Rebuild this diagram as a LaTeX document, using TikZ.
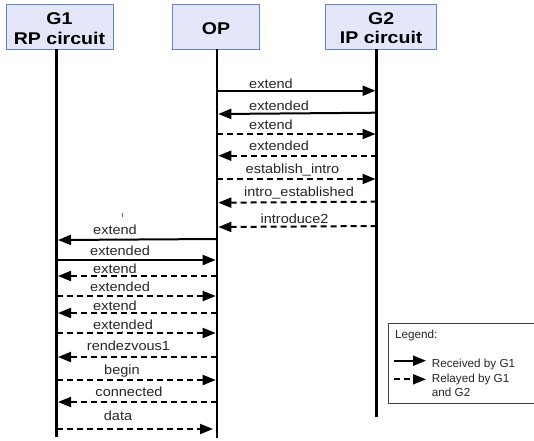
\documentclass[tikz,border=0pt]{standalone}
\usepackage{fontspec}
\setmainfont{Liberation Sans}
\newfontfamily\lblfont{Liberation Sans}[FakeStretch=1.1]
\newfontfamily\ttlfont{Liberation Sans}[FakeStretch=1.15]
\usetikzlibrary{arrows.meta}
\definecolor{boxfill}{HTML}{E4E6F9}
\definecolor{boxline}{HTML}{5C86C6}
\definecolor{tickblue}{HTML}{3A6FC0}
\tikzset{
  headbox/.style={draw=boxline, fill=boxfill, line width=1pt},
  ttl/.style={font=\ttlfont\bfseries\fontsize{17}{19}\selectfont, inner sep=0pt, anchor=base},
  lifeline/.style={line width=2.6pt, black},
  solidmsg/.style={line width=2pt, -{Triangle[length=13pt,width=10pt]}},
  dashmsg/.style={line width=2pt, dash pattern=on 6pt off 4pt, -{Triangle[length=13pt,width=10pt]}},
  lbl/.style={font=\lblfont\fontsize{13.2}{15}\selectfont, inner sep=0pt, text=black!85},
  lbll/.style={lbl, anchor=base west},
  lblc/.style={lbl, anchor=base},
  leg/.style={font=\fontsize{11.7}{13}\selectfont, inner sep=0pt, anchor=base west, text=black!85},
}
\begin{document}
\begin{tikzpicture}[x=1pt,y=-1pt]
\useasboundingbox (0,0) rectangle (534,440);
% header boxes
\draw[headbox] (6,4.3) rectangle (113,49.3);
\draw[headbox] (172.5,4.3) rectangle (259.5,49.3);
\draw[headbox] (325.7,4.3) rectangle (436.5,49.3);
\node[ttl] (t1a) at (59.5,24.2) {G1};
\node[ttl] (t1b) at (59.5,44.2) {RP circuit};
\node[ttl] (t2) at (216,34) {OP};
\node[ttl] (t3a) at (381.2,24) {G2};
\node[ttl] (t3b) at (381.2,43.8) {IP circuit};
% lifelines
\coordinate (g1top) at (56.7,49.3); \coordinate (g1bot) at (56.7,436.5);
\coordinate (optop) at (217,49.3); \coordinate (opbot) at (217,437.5);
\coordinate (g2top) at (376.5,49.3); \coordinate (g2bot) at (376.5,417);
\draw[lifeline] (g1top) -- (g1bot);
\draw[lifeline] (optop) -- (opbot);
\draw[lifeline] (g2top) -- (g2bot);
% messages OP <-> G2
\coordinate (a1) at (217,90.7);   \coordinate (b1) at (375.5,90.7);
\coordinate (a2) at (376.5,112.7); \coordinate (b2) at (218.3,114);
\coordinate (a3) at (217,134);    \coordinate (b3) at (375.5,134);
\coordinate (a4) at (376.5,155.7); \coordinate (b4) at (218.3,155.7);
\coordinate (a5) at (217,179);    \coordinate (b5) at (375.5,179);
\coordinate (a6) at (376.5,201.7); \coordinate (b6) at (218.3,202.7);
\coordinate (a7) at (376.5,226);  \coordinate (b7) at (218.3,227);
\draw[solidmsg] (a1) -- (b1);
\draw[solidmsg] (a2) -- (b2);
\draw[dashmsg] (a3) -- (b3);
\draw[dashmsg] (a4) -- (b4);
\draw[dashmsg] (a5) -- (b5);
\draw[dashmsg] (a6) -- (b6);
\draw[dashmsg] (a7) -- (b7);
\node[lbll] (l1) at (249,88.7) {extend};
\node[lbll] (l2) at (249,110.4) {extended};
\node[lbll] (l3) at (249,129) {extend};
\node[lbll] (l4) at (249,150) {extended};
\node[lblc] (l5) at (292.5,173.3) {establish\_intro};
\node[lblc] (l6) at (299,196.7) {intro\_established};
\node[lblc] (l7) at (294.5,223.3) {introduce2};
% messages G1 <-> OP
\coordinate (a8) at (217,239);    \coordinate (b8) at (58,240);
\coordinate (a9) at (56.7,260);   \coordinate (b9) at (215.7,260);
\coordinate (a10) at (217,276);   \coordinate (b10) at (58,276);
\coordinate (a11) at (56.7,296);  \coordinate (b11) at (215.7,296);
\coordinate (a12) at (217,313);   \coordinate (b12) at (58,313);
\coordinate (a13) at (56.7,333);  \coordinate (b13) at (215.7,333);
\coordinate (a14) at (217,357);   \coordinate (b14) at (58,357);
\coordinate (a15) at (56.7,380);  \coordinate (b15) at (215.7,380);
\coordinate (a16) at (217,402);   \coordinate (b16) at (58,402);
\coordinate (a17) at (56.7,429);  \coordinate (b17) at (213,429);
\draw[solidmsg] (a8) -- (b8);
\draw[solidmsg] (a9) -- (b9);
\draw[dashmsg] (a10) -- (b10);
\draw[dashmsg] (a11) -- (b11);
\draw[dashmsg] (a12) -- (b12);
\draw[dashmsg] (a13) -- (b13);
\draw[dashmsg] (a14) -- (b14);
\draw[dashmsg] (a15) -- (b15);
\draw[dashmsg] (a16) -- (b16);
\draw[dashmsg] (a17) -- (b17);
\node[lbll] (l8) at (93,234.7) {extend};
\node[lbll] (l9) at (90,255.7) {extended};
\node[lbll] (l10) at (93,273) {extend};
\node[lbll] (l11) at (90,291.7) {extended};
\node[lbll] (l12) at (93,310) {extend};
\node[lbll] (l13) at (93,329) {extended};
\node[lblc] (l14) at (128.5,350.7) {rendezvous1};
\node[lblc] (l15) at (122,374.5) {begin};
\node[lblc] (l16) at (129,396.7) {connected};
\node[lblc] (l17) at (118,420) {data};
% small blue ticks
\coordinate (tk1a) at (122,213); \coordinate (tk1b) at (122,216.5);
\coordinate (tk2a) at (122,330.5); \coordinate (tk2b) at (122,333.5);
\draw[tickblue, line width=0.8pt] (tk1a) -- (tk1b);
\draw[tickblue, line width=0.8pt] (tk2a) -- (tk2b);
% legend
\draw[black!75, line width=0.9pt] (388,323) rectangle (540,403);
\node[leg] (lg0) at (395,338) {Legend:};
\coordinate (lgs1) at (394,360.7); \coordinate (lgs2) at (426,360.7);
\coordinate (lgd1) at (394,379.3); \coordinate (lgd2) at (426,379.3);
\draw[solidmsg] (lgs1) -- (lgs2);
\draw[dashmsg] (lgd1) -- (lgd2);
\node[leg] (lg1) at (431.7,367.3) {Received by G1};
\node[leg] (lg2) at (431.7,382) {Relayed by G1};
\node[leg] (lg3) at (431.7,396) {and G2};
\end{tikzpicture}
\end{document}
